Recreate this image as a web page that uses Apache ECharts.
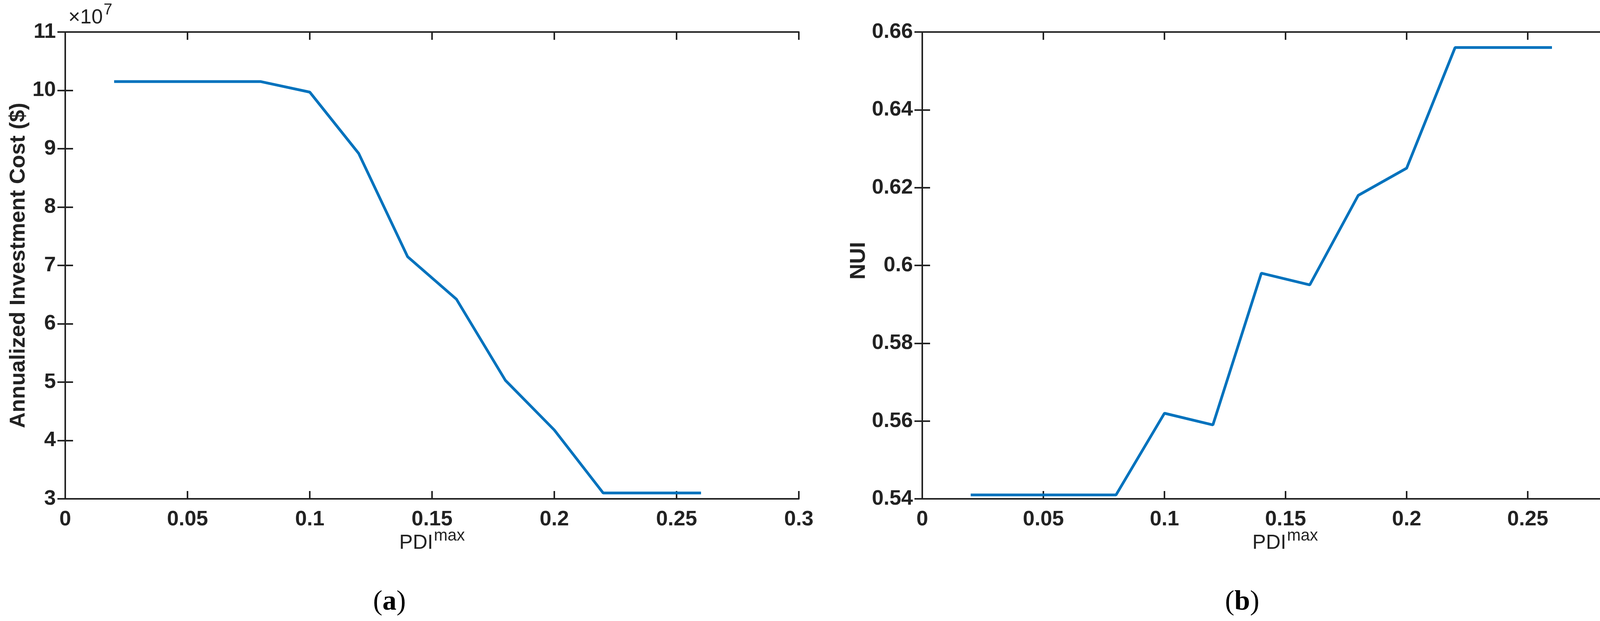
<!DOCTYPE html>
<html><head><meta charset="utf-8">
<script src="https://cdn.jsdelivr.net/npm/echarts@6/dist/echarts.min.js"></script>
<style>html,body{margin:0;padding:0;background:#fff}#c{width:4269px;height:1591px}</style>
</head><body><div id="c"></div>
<script>
const pdi = [0.02,0.04,0.06,0.08,0.10,0.12,0.14,0.16,0.18,0.20,0.22,0.24,0.26];
const costE7 = [10.15,10.15,10.15,10.15,9.97,8.92,7.15,6.42,5.03,4.18,3.10,3.10,3.10];
const nui = [0.541,0.541,0.541,0.541,0.562,0.559,0.598,0.595,0.618,0.625,0.656,0.656,0.656];
const xTicks = ['0','0.05','0.1','0.15','0.2','0.25','0.3'];

const FONT = '"Liberation Sans Narrow","Liberation Sans",Arial,sans-serif';
const lab = {color:'#222',fontFamily:FONT,fontWeight:'bold',fontSize:54};
const axLine = {show:true,lineStyle:{color:'#222',width:4}};
const tick = {show:true,inside:true,length:20,lineStyle:{color:'#222',width:4}};
function xa(gi,pos,showLab){
  return {type:'value',gridIndex:gi,position:pos,min:0,max:0.3,interval:0.05,
    axisLine:axLine,axisTick:tick,splitLine:{show:false},
    axisLabel:showLab?Object.assign({margin:26,formatter:v=>xTicks[Math.round(v/0.05)]},lab):{show:false}};
}
function ya(gi,pos,min,max,intv,showLab,fmt){
  return {type:'value',gridIndex:gi,position:pos,min:min,max:max,interval:intv,
    axisLine:axLine,axisTick:tick,splitLine:{show:false},
    axisLabel:showLab?Object.assign({margin:24,formatter:fmt},lab):{show:false}};
}
const supT = (x)=>({type:'text',x:x,y:1418,style:{text:'{a|PDI}{s|max}',align:'center',verticalAlign:'bottom',rich:{a:{fontFamily:'"Liberation Sans",Arial,sans-serif',fontSize:52,fill:'#222',verticalAlign:'bottom'},s:{fontFamily:'"Liberation Sans",Arial,sans-serif',fontSize:42,fill:'#222',verticalAlign:'bottom',padding:[0,0,24,2]}}}});
const cap = (x,l)=>({type:'text',x:x,y:1543,style:{text:'('+'{b|'+l+'})',align:'center',verticalAlign:'middle',fontFamily:'"Liberation Serif",serif',fontSize:72,fill:'#000',rich:{b:{fontFamily:'"Liberation Serif",serif',fontSize:72,fontWeight:'bold',fill:'#000'}}}});
const chart = echarts.init(document.getElementById('c'));
chart.setOption({
  backgroundColor:'#fff',animation:false,
  grid:[{left:167,right:2224,top:82,height:1196},{left:2361,right:48,top:82,height:1196}],
  xAxis:[xa(0,'bottom',true),xa(0,'top',false),xa(1,'bottom',true),xa(1,'top',false)],
  yAxis:[ya(0,'left',3,11,1,true,v=>String(Math.round(v))),ya(0,'right',3,11,1,false),
         ya(1,'left',0.54,0.66,0.02,true,v=>v.toFixed(2).replace(/0$/,'').replace(/\.$/,'')),ya(1,'right',0.54,0.66,0.02,false)],
  series:[
    {type:'line',xAxisIndex:0,yAxisIndex:0,data:pdi.map((x,i)=>[x,costE7[i]]),showSymbol:false,lineStyle:{color:'#0072BD',width:7}},
    {type:'line',xAxisIndex:2,yAxisIndex:2,data:pdi.map((x,i)=>[x,nui[i]]),showSymbol:false,lineStyle:{color:'#0072BD',width:7}}
  ],
  graphic:[
    {type:'text',x:175,y:72,style:{text:'{a|×10}{s|7}',verticalAlign:'bottom',rich:{a:{fontFamily:'"Liberation Sans",Arial,sans-serif',fontSize:52,fill:'#222',verticalAlign:'bottom'},s:{fontFamily:'"Liberation Sans",Arial,sans-serif',fontSize:40,fill:'#222',verticalAlign:'bottom',padding:[0,0,26,2]}}}},
    {type:'text',x:48,y:680,rotation:Math.PI/2,style:{text:'Annualized Investment Cost ($)',fontFamily:'"Liberation Sans",Arial,sans-serif',fontWeight:'bold',fontSize:56,fill:'#222',align:'center',verticalAlign:'middle'}},
    {type:'text',x:2199,y:668,rotation:Math.PI/2,style:{text:'NUI',fontFamily:'"Liberation Sans",Arial,sans-serif',fontWeight:'bold',fontSize:56,fill:'#222',align:'center',verticalAlign:'middle'}},
    supT(1106), supT(3290), cap(997,'a'), cap(3180,'b')
  ]
});
</script></body></html>
